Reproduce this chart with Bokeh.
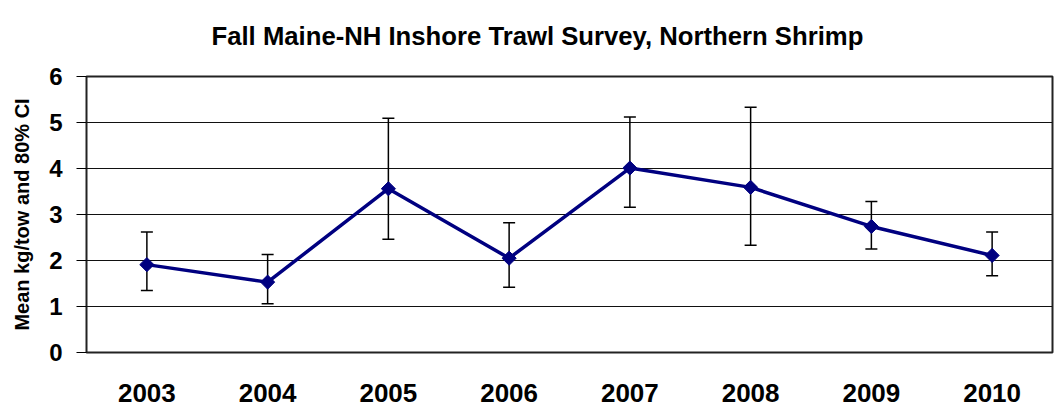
from bokeh.plotting import figure
from bokeh.models import ColumnDataSource, Range1d, FactorRange, Whisker, TeeHead, FixedTicker, CategoricalAxis
from bokeh.embed import file_html
from bokeh.resources import INLINE
import numpy as np

years = ["2003", "2004", "2005", "2006", "2007", "2008", "2009", "2010"]
mean_kg = [1.91, 1.53, 3.56, 2.05, 4.01, 3.59, 2.74, 2.11]
ci_upper = [2.62, 2.13, 5.09, 2.82, 5.12, 5.33, 3.28, 2.62]
ci_lower = [1.35, 1.06, 2.46, 1.42, 3.16, 2.33, 2.25, 1.67]
y_ticks = [0, 1, 2, 3, 4, 5, 6]

FONT = "Liberation Sans"

src = ColumnDataSource(dict(year=years, mean=mean_kg, upper=ci_upper, lower=ci_lower))

p = figure(
    width=1062, height=411,
    x_range=FactorRange(*years, range_padding=0),
    y_range=Range1d(0, 6),
    output_backend="svg", toolbar_location=None,
    min_border_left=86, min_border_right=10, min_border_top=76, min_border_bottom=59,
    title="Fall Maine-NH Inshore Trawl Survey, Northern Shrimp",
)

# invisible spacer axis between title and frame
spacer = CategoricalAxis(major_tick_out=12, major_tick_in=0, major_tick_line_color=None,
                         axis_line_color=None, major_label_text_color=None,
                         major_label_text_font_size="1px", major_label_standoff=0)
p.add_layout(spacer, "above")

p.title.text_font = FONT
p.title.text_font_size = "25.7px"
p.title.text_font_style = "bold"
p.title.text_color = "black"
p.title.align = "left"
p.title.offset = 125
p.title.standoff = 29

p.outline_line_color = "#222222"
p.outline_line_width = 2

p.xgrid.grid_line_color = None
p.ygrid.grid_line_color = "#111111"
p.ygrid.grid_line_width = 1
p.ygrid.ticker = FixedTicker(ticks=y_ticks)

p.yaxis.ticker = FixedTicker(ticks=y_ticks)
p.yaxis.axis_line_color = None
p.yaxis.major_tick_in = 0
p.yaxis.major_tick_out = 10
p.yaxis.major_tick_line_color = "black"
p.yaxis.minor_tick_line_color = None
p.yaxis.major_label_text_font = FONT
p.yaxis.major_label_text_font_size = "24px"
p.yaxis.major_label_text_font_style = "bold"
p.yaxis.major_label_text_color = "black"
p.yaxis.major_label_standoff = 14
p.yaxis.axis_label = "Mean kg/tow and 80% CI"
p.yaxis.axis_label_text_font = FONT
p.yaxis.axis_label_text_font_size = "20px"
p.yaxis.axis_label_text_font_style = "bold"
p.yaxis.axis_label_text_color = "black"
p.yaxis.axis_label_standoff = 13

xa = p.below[0]
xa.axis_line_color = None
xa.major_tick_line_color = None
xa.major_tick_out = 0
xa.major_tick_in = 0
xa.major_label_text_font = FONT
xa.major_label_text_font_size = "26px"
xa.major_label_text_font_style = "bold"
xa.major_label_text_color = "black"
xa.major_label_standoff = 31

w = Whisker(base="year", upper="upper", lower="lower", source=src,
            line_color="black", line_width=1.5,
            upper_head=TeeHead(size=12, line_color="black", line_width=1.5),
            lower_head=TeeHead(size=12, line_color="black", line_width=1.5))
p.add_layout(w)

p.line("year", "mean", source=src, line_color="#000080", line_width=3.5)
p.scatter("year", "mean", source=src, marker="square", angle=np.pi / 4, size=10,
          fill_color="#000080", line_color="#000080")

open("out.html", "w").write(file_html(p, INLINE))
